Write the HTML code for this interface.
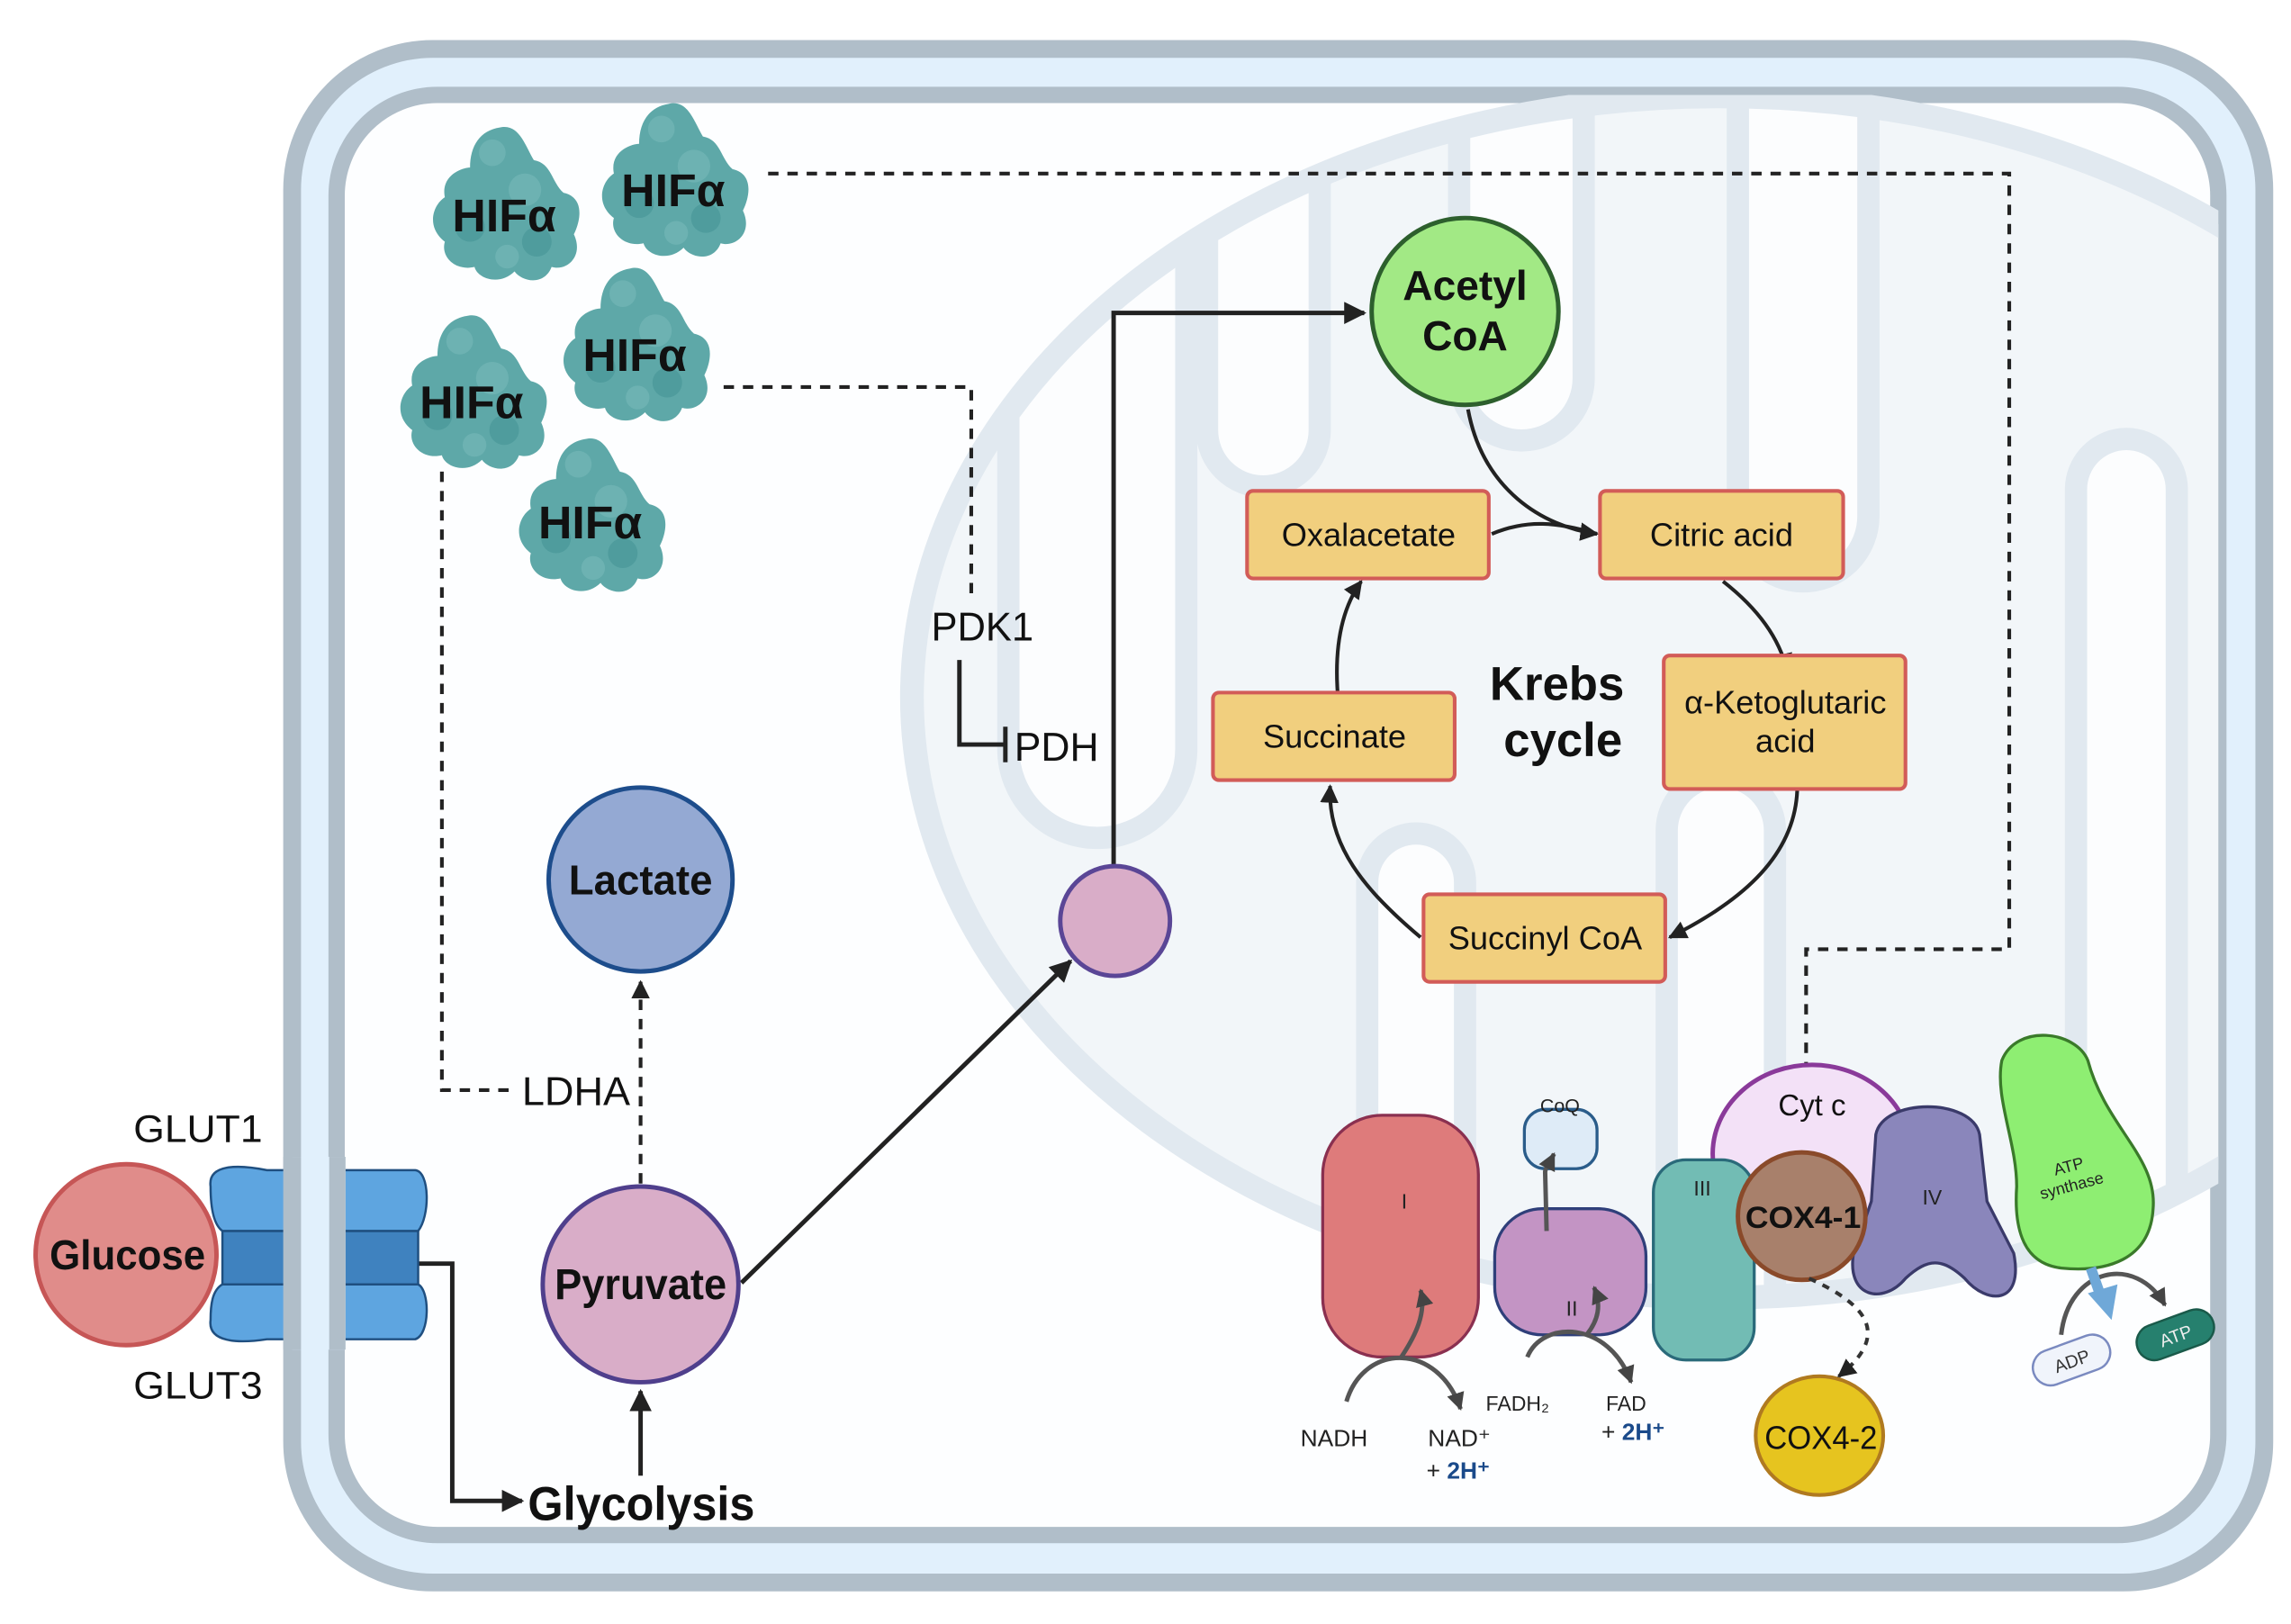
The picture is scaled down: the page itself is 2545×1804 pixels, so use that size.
<!DOCTYPE html>
<html><head><meta charset="utf-8"><style>
html,body{margin:0;padding:0;background:#fff;}
svg{display:block;}
text{font-family:"Liberation Sans",sans-serif;}
</style></head><body>
<svg width="2545" height="1804" viewBox="0 0 1545 1095" preserveAspectRatio="none" xmlns="http://www.w3.org/2000/svg">
<defs>
<marker id="ah" viewBox="0 0 10 10" refX="9" refY="5" markerWidth="5" markerHeight="5" orient="auto-start-reverse"><path d="M0,0 L10,5 L0,10 z" fill="#222"/></marker>
<marker id="ah2" viewBox="0 0 10 10" refX="9" refY="5" markerWidth="4" markerHeight="4" orient="auto"><path d="M0,0 L10,5 L0,10 z" fill="#444"/></marker>
<clipPath id="cell"><rect x="227" y="64" width="1269" height="971" rx="68"/></clipPath>
<clipPath id="mito"><ellipse cx="1160" cy="470" rx="545" ry="405"/></clipPath>
<g id="hif">
<path d="M-5,-52 C8,-55 12,-40 18,-30 C30,-28 30,-15 38,-8 C52,-5 50,10 45,20 C52,35 40,45 30,42 C25,55 10,52 5,45 C-5,55 -20,50 -22,42 C-35,45 -45,35 -42,25 C-55,15 -50,0 -42,-5 C-45,-20 -30,-25 -25,-25 C-25,-40 -18,-50 -5,-52 z" fill="#5ea8a8"/>
<circle cx="-10" cy="-35" r="9" fill="#6db2b2"/><circle cx="12" cy="-10" r="11" fill="#6db2b2"/><circle cx="-25" cy="15" r="10" fill="#4f9c9d"/><circle cx="20" cy="25" r="10" fill="#4f9c9d"/><circle cx="0" cy="35" r="8" fill="#6db2b2"/>
</g>
</defs>
<rect width="1545" height="1095" fill="#fff"/>
<rect x="197" y="33" width="1330" height="1034" rx="95" fill="#e1f0fc" stroke="#b0bec9" stroke-width="12"/>
<rect x="227" y="64" width="1269" height="971" rx="68" fill="#fdfeff" stroke="#b0bec9" stroke-width="11"/>
<g clip-path="url(#cell)">
<ellipse cx="1160" cy="470" rx="545" ry="405" fill="#f2f6f9"/>
<g clip-path="url(#mito)" fill="#fcfdfe" stroke="#e1e9f0" stroke-width="15">
<path d="M680,40 V505 A60,60 0 0 0 800,505 V40 z"/>
<path d="M814,40 V290 A38,38 0 0 0 890,290 V40 z"/>
<path d="M984,40 V255 A42,42 0 0 0 1068,255 V40 z"/>
<path d="M1172,40 V348 A44,44 0 0 0 1260,348 V40 z"/>
<path d="M922,900 V595 A33,33 0 0 1 988,595 V900 z"/>
<path d="M1124,900 V560 A36,36 0 0 1 1197,560 V900 z"/>
<path d="M1400,900 V330 A34,34 0 0 1 1468,330 V900 z"/>
</g>
<ellipse cx="1160" cy="470" rx="545" ry="405" fill="none" stroke="#e1e9f0" stroke-width="16"/>
</g>
<!-- dashed connectors -->
<g fill="none" stroke="#222" stroke-width="2.5" stroke-dasharray="7,6">
<path d="M518,117 H1355 V640 H1218 V717"/>
<path d="M488,261 H655 V405"/>
<path d="M298,318 V735 H345"/>
<path d="M432,798 V662" marker-end="url(#ah)"/>
</g>
<!-- HIF -->
<g>
<use href="#hif" x="342" y="138"/><use href="#hif" x="456" y="122"/><use href="#hif" x="320" y="265"/><use href="#hif" x="430" y="233"/><use href="#hif" x="400" y="348"/>
</g>
<g font-weight="bold" font-size="31" fill="#111" text-anchor="middle">
<text x="340" y="156" textLength="70" lengthAdjust="spacingAndGlyphs">HIFα</text><text x="454" y="139" textLength="70" lengthAdjust="spacingAndGlyphs">HIFα</text><text x="318" y="282" textLength="70" lengthAdjust="spacingAndGlyphs">HIFα</text><text x="428" y="250" textLength="70" lengthAdjust="spacingAndGlyphs">HIFα</text><text x="398" y="363" textLength="70" lengthAdjust="spacingAndGlyphs">HIFα</text>
</g>
<!-- PDK1/PDH -->
<text x="628" y="432" font-size="27" fill="#111" textLength="69" lengthAdjust="spacingAndGlyphs">PDK1</text>
<path d="M647,445 V502 H678 M678,490 V514" fill="none" stroke="#222" stroke-width="3"/>
<text x="684" y="513" font-size="27" fill="#111" textLength="57" lengthAdjust="spacingAndGlyphs">PDH</text>
<text x="352" y="745" font-size="27" fill="#111" textLength="73" lengthAdjust="spacingAndGlyphs">LDHA</text>
<!-- solid arrows -->
<g fill="none" stroke="#222" stroke-width="3">
<path d="M500,865 L722,648" marker-end="url(#ah)"/>
<path d="M751,585 V211 H920" marker-end="url(#ah)"/>
<path d="M278,852 H305 V1012 H352" marker-end="url(#ah)"/>
<path d="M432,995 V938" marker-end="url(#ah)"/>
</g>
<circle cx="752" cy="621" r="37" fill="#d9adc8" stroke="#5a4696" stroke-width="3"/>
<circle cx="988" cy="210" r="63" fill="#a2e985" stroke="#2d5f2d" stroke-width="3"/>
<text x="988" y="202" font-size="28" font-weight="bold" text-anchor="middle" fill="#111">Acetyl</text>
<text x="988" y="236" font-size="28" font-weight="bold" text-anchor="middle" fill="#111">CoA</text>
<!-- krebs arrows -->
<g fill="none" stroke="#222" stroke-width="2.5">
<path d="M990,276 C1000,330 1040,355 1077,360" marker-end="url(#ah)"/>
<path d="M1006,360 C1030,350 1050,352 1077,360"/>
<path d="M1162,392 C1185,410 1200,430 1205,452" marker-end="url(#ah)"/>
<path d="M1212,533 C1210,580 1170,610 1126,632" marker-end="url(#ah)"/>
<path d="M958,632 C920,600 895,570 897,530" marker-end="url(#ah)"/>
<path d="M902,466 C900,435 905,410 918,392" marker-end="url(#ah)"/>
</g>
<g fill="#f1cf7e" stroke="#d25c58" stroke-width="2.5">
<rect x="841" y="331" width="163" height="59" rx="4"/>
<rect x="1079" y="331" width="164" height="59" rx="4"/>
<rect x="1122" y="442" width="163" height="90" rx="4"/>
<rect x="818" y="467" width="163" height="59" rx="4"/>
<rect x="960" y="603" width="163" height="59" rx="4"/>
</g>
<g font-size="22" fill="#111" text-anchor="middle">
<text x="923" y="368">Oxalacetate</text>
<text x="1161" y="368">Citric acid</text>
<text x="1204" y="481">α-Ketoglutaric</text>
<text x="1204" y="507">acid</text>
<text x="900" y="504">Succinate</text>
<text x="1042" y="640">Succinyl CoA</text>
</g>
<text x="1050" y="472" font-size="32" font-weight="bold" text-anchor="middle" fill="#111">Krebs</text>
<text x="1054" y="510" font-size="32" font-weight="bold" text-anchor="middle" fill="#111">cycle</text>
<circle cx="432" cy="593" r="62" fill="#94a9d3" stroke="#1d4d8c" stroke-width="3"/>
<text x="432" y="603" font-size="28" font-weight="bold" text-anchor="middle" fill="#111" textLength="97" lengthAdjust="spacingAndGlyphs">Lactate</text>
<circle cx="432" cy="866" r="66" fill="#d9adc8" stroke="#4f3f8c" stroke-width="3"/>
<text x="432" y="876" font-size="29" font-weight="bold" text-anchor="middle" fill="#111" textLength="116" lengthAdjust="spacingAndGlyphs">Pyruvate</text>
<text x="356" y="1025" font-size="32" font-weight="bold" fill="#111" textLength="153" lengthAdjust="spacingAndGlyphs">Glycolysis</text>
<circle cx="85" cy="846" r="61" fill="#e08c8a" stroke="#c65656" stroke-width="3"/>
<text x="86" y="856" font-size="28" font-weight="bold" text-anchor="middle" fill="#111" textLength="105" lengthAdjust="spacingAndGlyphs">Glucose</text>
<!-- GLUT -->
<g stroke="#1f4f80" stroke-width="1.5">
<path d="M150,830 H282 V878 H150 z" fill="#3f82bf"/>
<path d="M142,800 C140,785 160,785 180,789 L280,789 C290,790 290,820 282,830 L150,830 C143,825 142,810 142,800 z" fill="#5ea5e0"/>
<path d="M142,890 C140,905 160,906 180,903 L280,903 C290,900 290,870 282,866 L150,866 C143,870 142,880 142,890 z" fill="#5ea5e0"/>
</g>
<rect x="197" y="780" width="36" height="130" fill="#e1f0fc"/>
<rect x="191" y="780" width="12" height="130" fill="#b0bec9"/><rect x="222" y="780" width="11" height="130" fill="#b0bec9"/>
<text x="90" y="770" font-size="26" fill="#111" textLength="87" lengthAdjust="spacingAndGlyphs">GLUT1</text>
<text x="90" y="943" font-size="26" fill="#111" textLength="87" lengthAdjust="spacingAndGlyphs">GLUT3</text>
<!-- ETC -->
<ellipse cx="1222" cy="778" rx="67" ry="60" fill="#f3e1f7" stroke="#8a3a9a" stroke-width="3"/>
<rect x="892" y="752" width="105" height="163" rx="40" fill="#de7b7b" stroke="#8a3050" stroke-width="2"/>
<rect x="1028" y="748" width="49" height="40" rx="14" fill="#deebf7" stroke="#2a5c8a" stroke-width="2"/>
<rect x="1008" y="815" width="102" height="85" rx="32" fill="#c394c4" stroke="#2f3f7a" stroke-width="2"/>
<rect x="1115" y="782" width="68" height="135" rx="22" fill="#72bcb4" stroke="#2a6a7a" stroke-width="2"/>
<path d="M1265,765 C1270,740 1330,740 1335,765 L1340,810 L1358,845 C1365,880 1340,880 1325,862 C1310,848 1300,848 1285,862 C1270,880 1245,875 1250,845 L1262,810 z" fill="#8a86bb" stroke="#3a3a6a" stroke-width="2"/>
<circle cx="1215" cy="820" r="43" fill="#a8806b" stroke="#8a4a2a" stroke-width="3"/>
<path d="M1350,715 C1360,690 1400,695 1408,715 C1420,760 1455,780 1452,815 C1450,850 1420,858 1390,855 C1365,852 1358,830 1360,800 C1360,770 1345,740 1350,715 z" fill="#8eee72" stroke="#3a7a2a" stroke-width="2"/>
<ellipse cx="1227" cy="968" rx="43" ry="40" fill="#e6c41f" stroke="#b07a20" stroke-width="2.5"/>
<g font-size="14" fill="#222" text-anchor="middle">
<text x="947" y="815">I</text><text x="1060" y="887">II</text><text x="1148" y="806">III</text><text x="1303" y="812">IV</text>
<text x="1052" y="750" font-size="13">CoQ</text>
<text x="1396" y="790" font-size="11" transform="rotate(-15 1396 790)">ATP</text>
<text x="1398" y="803" font-size="11" transform="rotate(-15 1398 803)">synthase</text>
</g>
<text x="1222" y="752" font-size="20" text-anchor="middle" fill="#111">Cyt c</text>
<text x="1216" y="828" font-size="21" font-weight="bold" text-anchor="middle" fill="#111" textLength="78" lengthAdjust="spacingAndGlyphs">COX4-1</text>
<text x="1228" y="977" font-size="22" text-anchor="middle" fill="#111" textLength="76" lengthAdjust="spacingAndGlyphs">COX4-2</text>
<path d="M1220,862 C1260,880 1275,900 1240,928" fill="none" stroke="#333" stroke-width="2.5" stroke-dasharray="5,5" marker-end="url(#ah)"/>
<g fill="none" stroke="#555" stroke-width="3">
<path d="M908,945 C920,905 970,905 985,950" marker-end="url(#ah2)"/>
<path d="M945,915 C955,900 962,885 958,870" marker-end="url(#ah2)"/>
<path d="M1030,915 C1040,890 1085,890 1100,932" marker-end="url(#ah2)"/>
<path d="M1070,900 C1078,890 1080,880 1075,868" marker-end="url(#ah2)"/>
<path d="M1043,830 L1042,790 C1043,785 1046,782 1048,778" marker-end="url(#ah2)"/>
<path d="M1390,900 C1395,855 1440,845 1460,880" marker-end="url(#ah2)"/>
</g>
<path d="M1410,855 L1416,872" stroke="#6fa8d8" stroke-width="7"/>
<polygon points="1408,872 1428,866 1424,890" fill="#6fa8d8"/>
<rect x="1370" y="905" width="54" height="24" rx="12" fill="#f0f4fb" stroke="#7a8ac0" stroke-width="1.5" transform="rotate(-20 1397 917)"/>
<text x="1397" y="922" font-size="12" text-anchor="middle" fill="#333" transform="rotate(-20 1397 917)">ADP</text>
<rect x="1440" y="888" width="54" height="24" rx="12" fill="#26806e" stroke="#1a5a4a" stroke-width="1.5" transform="rotate(-20 1467 900)"/>
<text x="1467" y="905" font-size="12" text-anchor="middle" fill="#eee" transform="rotate(-20 1467 900)">ATP</text>
<g font-size="16" fill="#222">
<text x="877" y="975">NADH</text>
<text x="963" y="975">NAD⁺</text>
<text x="962" y="997">+ <tspan fill="#1a4a8a" font-weight="bold">2H⁺</tspan></text>
<text x="1002" y="951" font-size="14">FADH₂</text>
<text x="1083" y="951" font-size="14">FAD</text>
<text x="1080" y="971">+ <tspan fill="#1a4a8a" font-weight="bold">2H⁺</tspan></text>
</g>
</svg>
</body></html>
